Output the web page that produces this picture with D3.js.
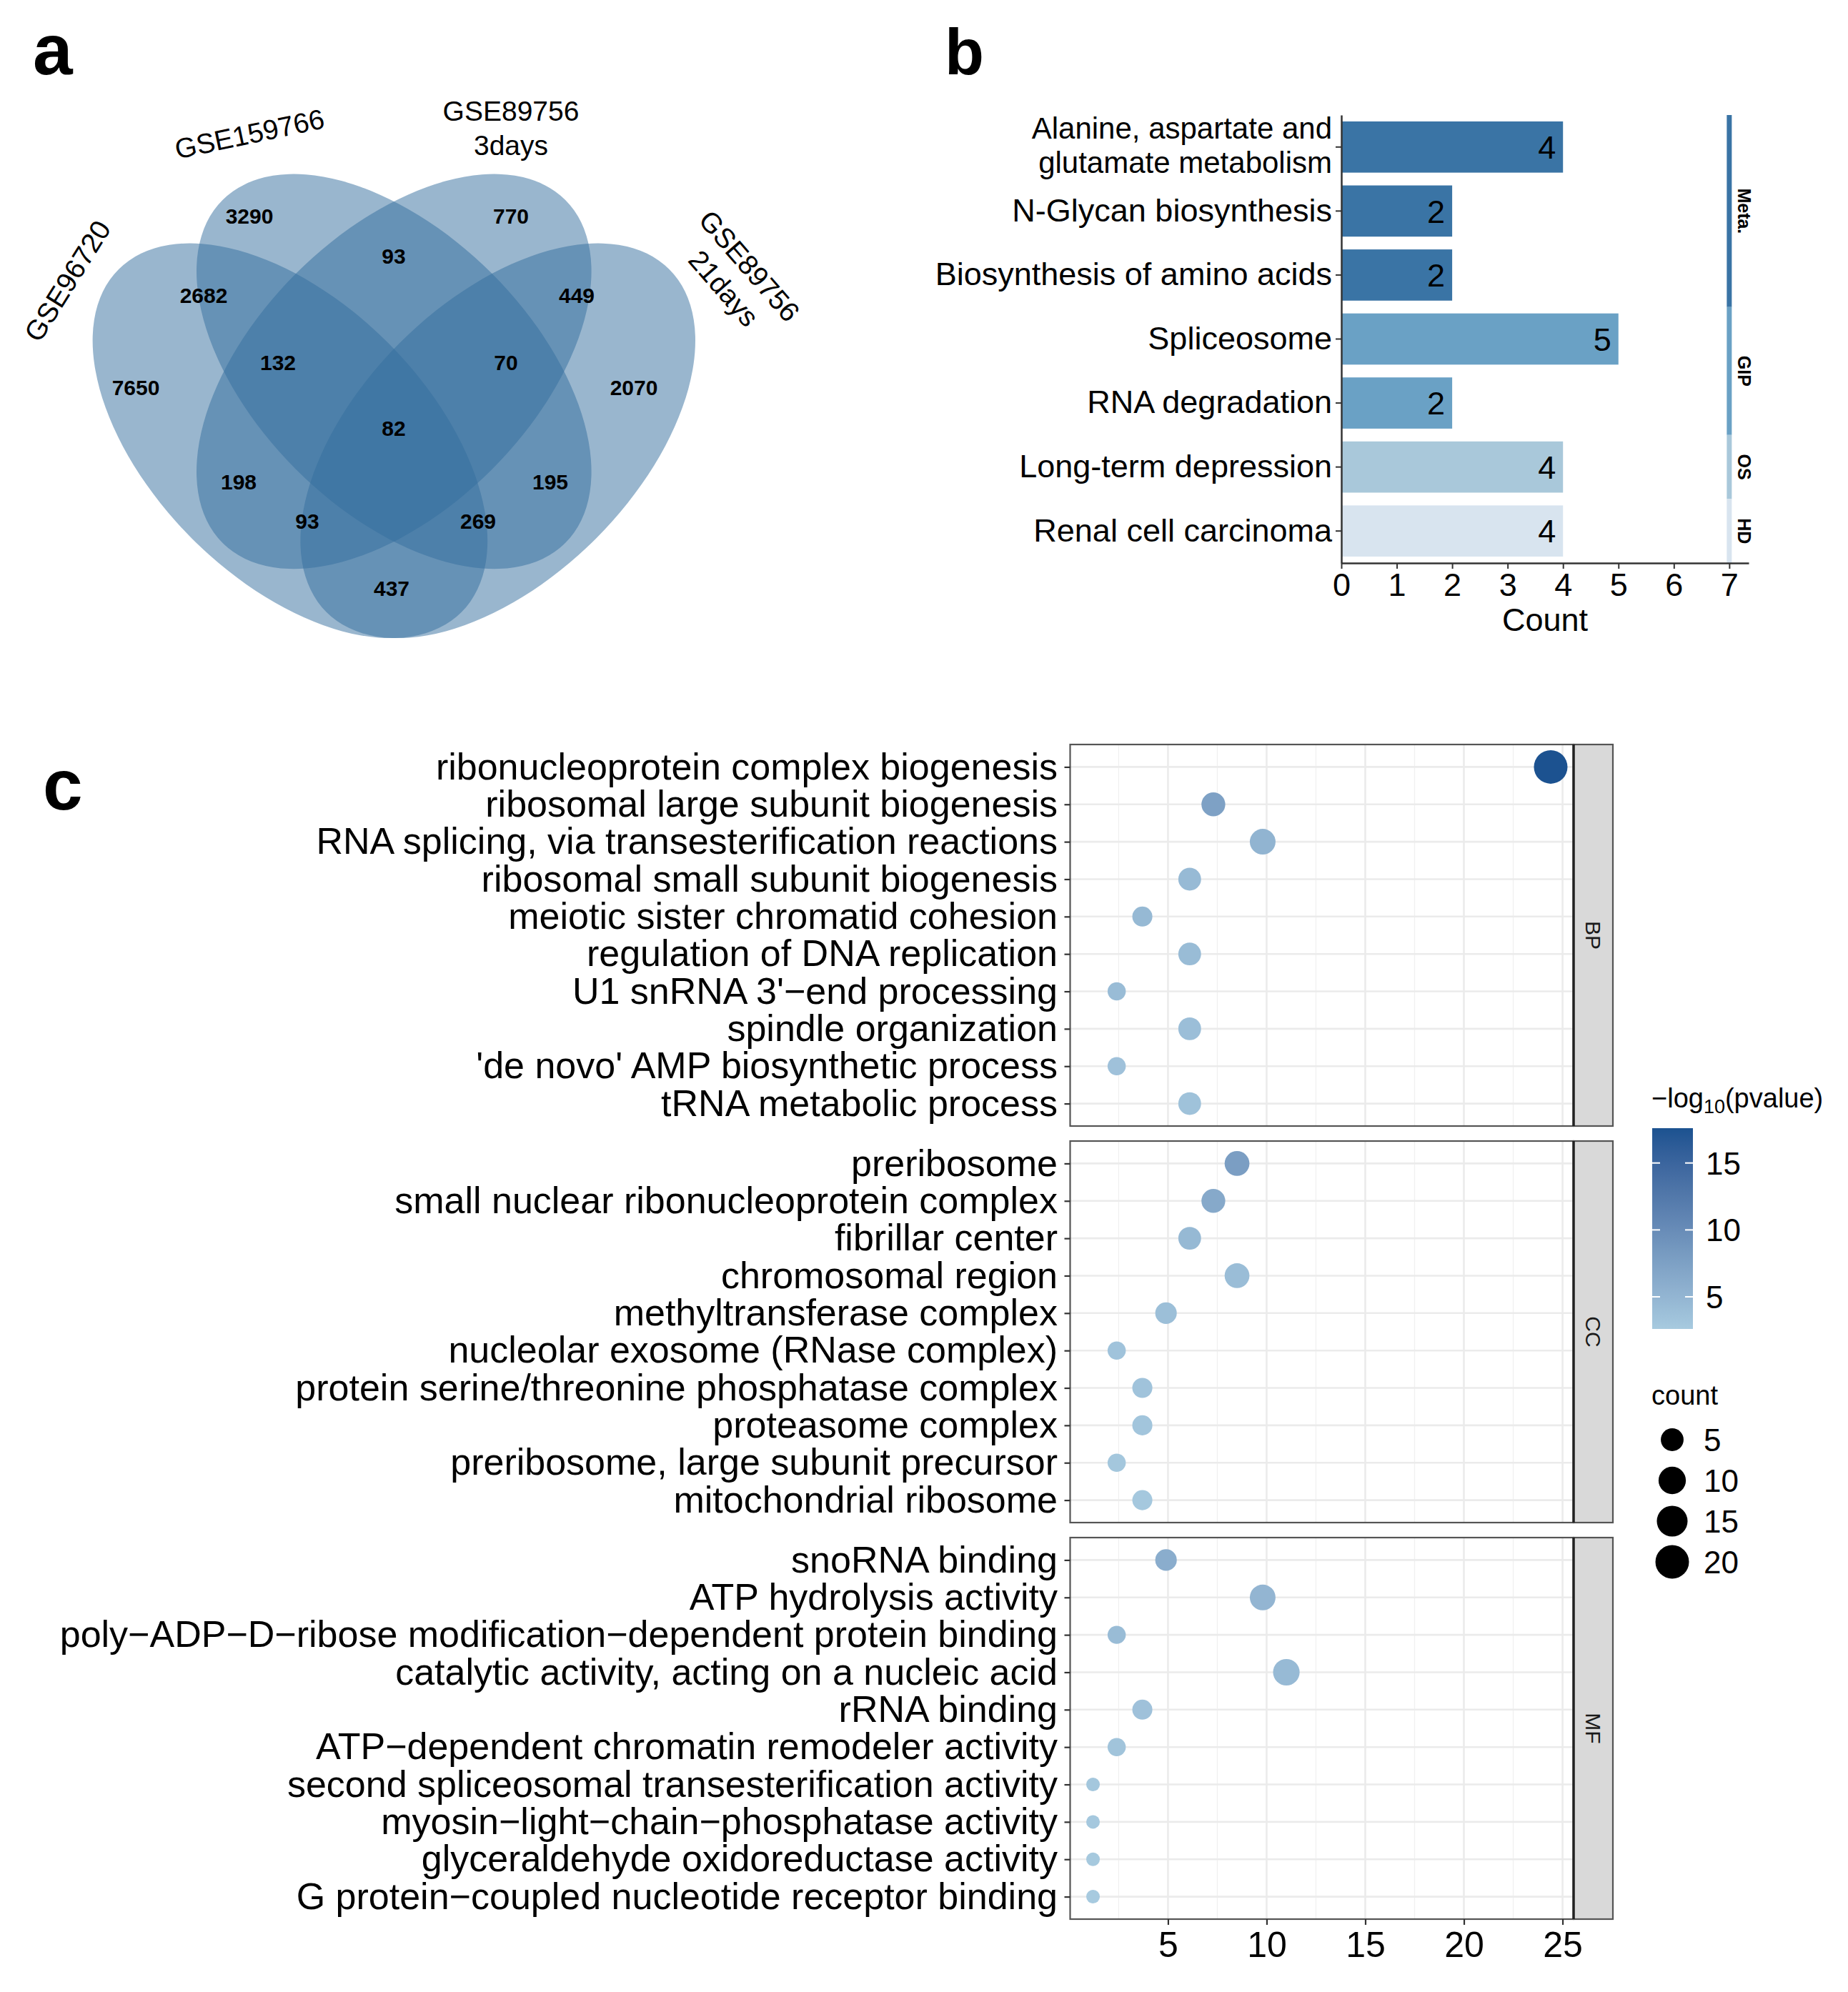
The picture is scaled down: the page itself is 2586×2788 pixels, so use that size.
<!DOCTYPE html>
<html><head><meta charset="utf-8">
<script src="https://cdn.jsdelivr.net/npm/d3@7"></script>
<style>
body{margin:0;background:#fff}
svg{display:block}
text{font-family:"Liberation Sans",Arial,Helvetica,sans-serif}
</style>
</head><body>
<svg id="fig" width="2586" height="2788"></svg>
<script>
// ---------------- DATA ----------------
// Panel a: Venn
const vennSetNames = ["GSE96720", "GSE159766", "GSE89756\n3days", "GSE89756\n21days"];
const vennRegions = ["A","B","C","D","AB","AC","AD","BC","BD","CD","ABC","ABD","ACD","BCD","ABCD"];
const vennCounts  = [7650,3290,770,2070,2682,198,437,93,195,449,132,269,93,70,82];

// Panel b: KEGG bars
const keggTerms  = ["Alanine, aspartate and\nglutamate metabolism","N-Glycan biosynthesis","Biosynthesis of amino acids","Spliceosome","RNA degradation","Long-term depression","Renal cell carcinoma"];
const keggCounts = [4,2,2,5,2,4,4];
const keggGroups = ["Meta.","Meta.","Meta.","GIP","GIP","OS","HD"];
const groupNames = ["Meta.","GIP","OS","HD"];
const keggTicks  = [0,1,2,3,4,5,6,7];

// Panel c: GO dot plot
const goOntology = ["BP","BP","BP","BP","BP","BP","BP","BP","BP","BP",
                    "CC","CC","CC","CC","CC","CC","CC","CC","CC","CC",
                    "MF","MF","MF","MF","MF","MF","MF","MF","MF","MF"];
const goTerms = [
 "ribonucleoprotein complex biogenesis","ribosomal large subunit biogenesis","RNA splicing, via transesterification reactions","ribosomal small subunit biogenesis","meiotic sister chromatid cohesion","regulation of DNA replication","U1 snRNA 3'\u2212end processing","spindle organization","'de novo' AMP biosynthetic process","tRNA metabolic process",
 "preribosome","small nuclear ribonucleoprotein complex","fibrillar center","chromosomal region","methyltransferase complex","nucleolar exosome (RNase complex)","protein serine/threonine phosphatase complex","proteasome complex","preribosome, large subunit precursor","mitochondrial ribosome",
 "snoRNA binding","ATP hydrolysis activity","poly\u2212ADP\u2212D\u2212ribose modification\u2212dependent protein binding","catalytic activity, acting on a nucleic acid","rRNA binding","ATP\u2212dependent chromatin remodeler activity","second spliceosomal transesterification activity","myosin\u2212light\u2212chain\u2212phosphatase activity","glyceraldehyde oxidoreductase activity","G protein\u2212coupled nucleotide receptor binding"];
const goX     = [24.4,7.3,9.8,6.1,3.7,6.1,2.4,6.1,2.4,6.1,
                 8.5,7.3,6.1,8.5,4.9,2.4,3.7,3.7,2.4,3.7,
                 4.9,9.8,2.4,11.0,3.7,2.4,1.2,1.2,1.2,1.2];
const goCount = [20,6,8,5,3,5,2,5,2,5,
                 7,6,5,7,4,2,3,3,2,3,
                 4,8,2,9,3,2,1,1,1,1];
const goLogP  = [17.6,7.4,5.2,4.5,4.6,4.2,4.2,4.0,3.6,3.5,
                 7.8,6.5,4.6,4.1,3.9,3.4,3.4,3.2,3.0,2.8,
                 6.0,5.0,4.2,4.5,3.6,3.3,2.9,2.8,2.7,2.6];
const facetNames = ["BP","CC","MF"];
const goXTicks = [5,10,15,20,25];
const colorTicks = [5,10,15];
const sizeTicks = [5,10,15,20];

// ---------------- DRAW ----------------
const svg = d3.select("#fig");
svg.append("rect").attr("width",2586).attr("height",2788).attr("fill","#fff");
const FONT = '"Liberation Sans",Arial,Helvetica,sans-serif';

// panel letters
svg.append("text").attr("x",46).attr("y",104).style("font-size","100px").style("font-weight","bold").text("a");
svg.append("text").attr("x",1322).attr("y",104).style("font-size","90px").style("font-weight","bold").text("b");
svg.append("text").attr("x",60).attr("y",1133).style("font-size","100px").style("font-weight","bold").text("c");

// ===== Panel a: Venn =====
(function(){
  const g = svg.append("g");
  const U = 969.3;                 // unit of the 4-ellipse layout
  const cx0 = 551.3, cy0 = 519.9;  // centre shared by ellipses B and C
  const A = 0.35*U, B = 0.2*U;
  const ell = [
    {cx:cx0-0.15*U, cy:cy0+0.1*U, rot:45},
    {cx:cx0,        cy:cy0,        rot:45},
    {cx:cx0,        cy:cy0,        rot:-45},
    {cx:cx0+0.15*U, cy:cy0+0.1*U, rot:-45}
  ];
  g.selectAll("ellipse").data(ell).join("ellipse")
    .attr("cx",0).attr("cy",0).attr("rx",A).attr("ry",B)
    .attr("transform",d=>`translate(${d.cx},${d.cy}) rotate(${d.rot})`)
    .attr("fill","rgb(52,110,158)").attr("fill-opacity",0.5);

  const pos = {A:[190,542],B:[349,302],C:[715,302],D:[887,542],AB:[285,413],AC:[334,674],AD:[548,823],
               BC:[551,358],BD:[770,674],CD:[807,413],ABC:[389,507],ABD:[669,729],ACD:[430,729],BCD:[708,507],ABCD:[551,599]};
  g.selectAll("text.cnt").data(vennRegions).join("text").attr("class","cnt")
    .attr("x",d=>pos[d][0]).attr("y",d=>pos[d][1]).attr("dy","0.36em")
    .attr("text-anchor","middle").style("font-size","30px").style("font-weight","bold")
    .text((d,i)=>vennCounts[i]);

  const lab = [
    {x:94, y:393, rot:-58},
    {x:349, y:187, rot:-12},
    {x:715, y:155, rot:0},
    {x:1049, y:372, rot:49}
  ];
  lab.forEach((l,i)=>{
    const lines = vennSetNames[i].split("\n");
    const t = g.append("text").attr("transform",`translate(${l.x},${l.y}) rotate(${l.rot})`)
      .attr("text-anchor","middle").style("font-size","39px");
    lines.forEach((s,j)=>t.append("tspan").attr("x",0).attr("dy", j===0 ? "0.36em" : "1.22em").text(s));
  });
})();

// ===== Panel b: bars =====
(function(){
  const g = svg.append("g");
  const groupColor = d3.scaleOrdinal().domain(groupNames).range(["#3a74a5","#6aa1c5","#a9c8da","#d8e4ef"]);
  const x = d3.scaleLinear().domain([0, d3.max(keggTicks)*1.05]).range([1877, 2447]);
  const y = d3.scaleBand().domain(keggTerms).range([161, 788]).paddingInner(0.2).paddingOuter(0.1);

  g.selectAll("rect.bar").data(keggTerms).join("rect").attr("class","bar")
    .attr("x",x(0)).attr("y",d=>y(d)).attr("height",y.bandwidth())
    .attr("width",(d,i)=>x(keggCounts[i])-x(0))
    .attr("fill",(d,i)=>groupColor(keggGroups[i]));
  g.selectAll("text.val").data(keggTerms).join("text").attr("class","val")
    .attr("x",(d,i)=>x(keggCounts[i])-10).attr("y",d=>y(d)+y.bandwidth()/2).attr("dy","0.36em")
    .attr("text-anchor","end").style("font-size","45px").text((d,i)=>keggCounts[i]);

  // group side bar
  const gx = x(d3.max(keggTicks));
  groupNames.forEach(gn=>{
    const mem = keggTerms.filter((t,i)=>keggGroups[i]===gn);
    const y0 = y(mem[0]) - y.step()*y.paddingInner()/2;
    const y1 = y(mem[mem.length-1]) + y.bandwidth() + y.step()*y.paddingInner()/2;
    g.append("line").attr("x1",gx).attr("x2",gx).attr("y1",y0).attr("y2",y1)
      .attr("stroke",groupColor(gn)).attr("stroke-width",7);
    g.append("text").attr("transform",`translate(${gx+15},${(y0+y1)/2}) rotate(90)`)
      .attr("text-anchor","middle").attr("dy","0.1em").style("font-size","25px").style("font-weight","bold").text(gn);
  });

  // axes
  const ay = g.append("g").attr("transform",`translate(${x(0)},0)`)
    .call(d3.axisLeft(y).tickSize(8).tickSizeOuter(0).tickPadding(5));
  ay.select(".domain").attr("stroke","#333").attr("stroke-width",2.5);
  ay.selectAll(".tick line").attr("stroke","#333").attr("stroke-width",2);
  ay.selectAll(".tick text").style("font-size","45px").attr("fill","#000").style("font-family",FONT)
    .each(function(d){
      const lines = d.split("\n");
      if(lines.length>1){
        const t = d3.select(this); t.text(null).attr("dy",null).style("font-size","42px");
        const lh = 48;
        lines.forEach((s,j)=>t.append("tspan").attr("x",-13).attr("y",(j-(lines.length-1)/2)*lh - 3).attr("dy","0.36em").text(s));
      }
    });
  const ax = g.append("g").attr("transform",`translate(0,${y.range()[1]})`)
    .call(d3.axisBottom(x).tickValues(keggTicks).tickSize(8).tickSizeOuter(0).tickPadding(6).tickFormat(d3.format("d")));
  ax.select(".domain").attr("stroke","#333").attr("stroke-width",2.5);
  ax.selectAll(".tick line").attr("stroke","#333").attr("stroke-width",2);
  ax.selectAll(".tick text").style("font-size","45px").attr("fill","#000").style("font-family",FONT);
  g.append("text").attr("x",(x.range()[0]+x.range()[1])/2).attr("y",883)
    .attr("text-anchor","middle").style("font-size","45px").text("Count");
})();

// ===== Panel c: GO dot plot =====
(function(){
  const g = svg.append("g");
  const px0 = 1497.5, px1 = 2202, stripW = 55, panelH = 534;
  const tops = [1042, 1597, 2152];
  const ext = d3.extent(goX), padX = (ext[1]-ext[0])*0.05;
  const x = d3.scaleLinear().domain([ext[0]-padX, ext[1]+padX]).range([px0, px1]);
  const col = d3.scaleSequential(d3.interpolateLab("#a7cadf","#1c5290")).domain(d3.extent(goLogP));
  const sizeT = d3.scaleLinear().domain(d3.extent(goCount)).range([0,1]);
  const rad = c => 9.5 + 14*Math.sqrt(Math.max(0,sizeT(c)));
  const minor = d3.range(2.5, x.domain()[1], 5);

  facetNames.forEach((f,fi)=>{
    const top = tops[fi], bot = top+panelH;
    const idx = goOntology.map((o,i)=>o===f?i:-1).filter(i=>i>=0);
    const y = d3.scalePoint().domain(idx.map(i=>goTerms[i])).range([top, bot]).padding(0.6);
    const pg = g.append("g");
    pg.append("rect").attr("x",px0).attr("y",top).attr("width",px1-px0).attr("height",panelH).attr("fill","#fff");
    pg.selectAll("line.mn").data(minor).join("line").attr("class","mn")
      .attr("x1",d=>x(d)).attr("x2",d=>x(d)).attr("y1",top).attr("y2",bot).attr("stroke","#f0f0f0").attr("stroke-width",1.3);
    pg.selectAll("line.mj").data(goXTicks).join("line").attr("class","mj")
      .attr("x1",d=>x(d)).attr("x2",d=>x(d)).attr("y1",top).attr("y2",bot).attr("stroke","#ebebeb").attr("stroke-width",2.6);
    pg.selectAll("line.hy").data(y.domain()).join("line").attr("class","hy")
      .attr("x1",px0).attr("x2",px1).attr("y1",d=>y(d)).attr("y2",d=>y(d)).attr("stroke","#ebebeb").attr("stroke-width",2.6);
    pg.selectAll("circle").data(idx).join("circle")
      .attr("cx",i=>x(goX[i])).attr("cy",i=>y(goTerms[i])).attr("r",i=>rad(goCount[i]))
      .attr("fill",i=>col(goLogP[i]));
    pg.append("rect").attr("x",px0).attr("y",top).attr("width",px1-px0).attr("height",panelH)
      .attr("fill","none").attr("stroke","#555").attr("stroke-width",2.2);
    // strip
    pg.append("rect").attr("x",px1).attr("y",top).attr("width",stripW).attr("height",panelH)
      .attr("fill","#d9d9d9").attr("stroke","#555").attr("stroke-width",2.2);
    pg.append("line").attr("x1",px1).attr("x2",px1).attr("y1",top).attr("y2",bot).attr("stroke","#222").attr("stroke-width",3.5);
    pg.append("text").attr("transform",`translate(${px1+stripW/2},${top+panelH/2}) rotate(90)`)
      .attr("text-anchor","middle").attr("dy","0.36em").style("font-size","30px").attr("fill","#1a1a1a").text(f);
    // y axis
    const ay = pg.append("g").attr("transform",`translate(${px0},0)`).call(d3.axisLeft(y).tickSize(8).tickPadding(9.5));
    ay.select(".domain").remove();
    ay.selectAll(".tick line").attr("stroke","#333").attr("stroke-width",2.2);
    ay.selectAll(".tick text").style("font-size","52px").attr("fill","#000").style("font-family",FONT);
    if(fi===facetNames.length-1){
      const ax = pg.append("g").attr("transform",`translate(0,${bot})`)
        .call(d3.axisBottom(x).tickValues(goXTicks).tickSize(8).tickPadding(9));
      ax.select(".domain").remove();
      ax.selectAll(".tick line").attr("stroke","#333").attr("stroke-width",2.2);
      ax.selectAll(".tick text").style("font-size","50px").attr("fill","#000").style("font-family",FONT);
    }
  });

  // colour legend
  const lg = svg.append("g");
  const t = lg.append("text").attr("x",2311).attr("y",1550).style("font-size","38px");
  t.append("tspan").text("\u2212log");
  t.append("tspan").attr("dy",8).style("font-size","27px").text("10");
  t.append("tspan").attr("dy",-8).text("(pvalue)");
  const cy = d3.scaleLinear().domain(col.domain()).range([1860,1579]);
  const grad = svg.append("defs").append("linearGradient").attr("id","cgrad")
    .attr("x1",0).attr("x2",0).attr("y1",1).attr("y2",0);
  d3.range(0,1.0001,0.1).forEach(s=>{
    grad.append("stop").attr("offset",s).attr("stop-color",col(col.domain()[0]+s*(col.domain()[1]-col.domain()[0])));
  });
  const bx = 2312, bw = 57;
  lg.append("rect").attr("x",bx).attr("y",1579).attr("width",bw).attr("height",281).attr("fill","url(#cgrad)");
  colorTicks.forEach(v=>{
    lg.append("line").attr("x1",bx).attr("x2",bx+11).attr("y1",cy(v)).attr("y2",cy(v)).attr("stroke","#fff").attr("stroke-width",2);
    lg.append("line").attr("x1",bx+bw-11).attr("x2",bx+bw).attr("y1",cy(v)).attr("y2",cy(v)).attr("stroke","#fff").attr("stroke-width",2);
    lg.append("text").attr("x",2387).attr("y",cy(v)).attr("dy","0.36em").style("font-size","44px").text(v);
  });
  // size legend
  lg.append("text").attr("x",2311).attr("y",1966).style("font-size","38px").text("count");
  const sy = [2015,2072,2129,2186];
  sizeTicks.forEach((v,i)=>{
    lg.append("circle").attr("cx",2340).attr("cy",sy[i]).attr("r",rad(v)).attr("fill","#000");
    lg.append("text").attr("x",2384).attr("y",sy[i]).attr("dy","0.36em").style("font-size","44px").text(v);
  });
})();
</script>
</body></html>
